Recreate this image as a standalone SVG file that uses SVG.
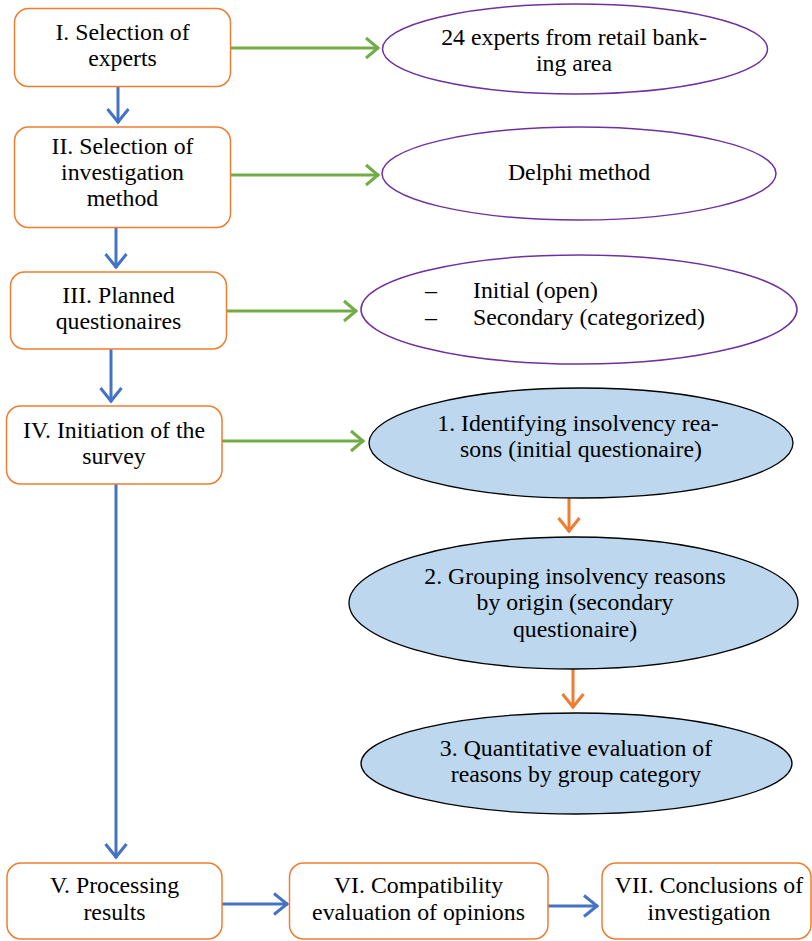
<svg xmlns="http://www.w3.org/2000/svg" width="812" height="941" viewBox="0 0 812 941">
<defs>
<style>
.box{fill:#fff;stroke:#ED7D31;stroke-width:1.5}
.ell{fill:#fff;stroke:#7030A0;stroke-width:1.5}
.ellb{fill:#BDD7EE;stroke:#000;stroke-width:1.3}
.c{text-anchor:middle}
.g{stroke:#70AD47;stroke-width:3;fill:none}
.b{stroke:#4472C4;stroke-width:3;fill:none}
.o{stroke:#ED7D31;stroke-width:3;fill:none}
</style>
<marker id="mg" markerUnits="userSpaceOnUse" markerWidth="30" markerHeight="30" viewBox="-15 -15 30 30" refX="0" refY="0" orient="auto" overflow="visible"><path d="M-13,-10 L-1,0 L-13,10" fill="none" stroke="#70AD47" stroke-width="3"/></marker>
<marker id="mb" markerUnits="userSpaceOnUse" markerWidth="30" markerHeight="30" viewBox="-15 -15 30 30" refX="0" refY="0" orient="auto" overflow="visible"><path d="M-14,-10.5 L-1,0 L-14,10.5" fill="none" stroke="#4472C4" stroke-width="3"/></marker>
<marker id="mo" markerUnits="userSpaceOnUse" markerWidth="30" markerHeight="30" viewBox="-15 -15 30 30" refX="0" refY="0" orient="auto" overflow="visible"><path d="M-14,-10.5 L-1,0 L-14,10.5" fill="none" stroke="#ED7D31" stroke-width="3"/></marker>
</defs>
<rect width="812" height="941" fill="#fff"/>
<g id="connectors">
<line class="g" x1="231" y1="48" x2="379" y2="48" marker-end="url(#mg)"/>
<line class="g" x1="231" y1="175" x2="379" y2="175" marker-end="url(#mg)"/>
<line class="g" x1="227" y1="311" x2="357" y2="311" marker-end="url(#mg)"/>
<line class="g" x1="222" y1="441" x2="364" y2="441" marker-end="url(#mg)"/>
<line class="b" x1="118" y1="87" x2="118" y2="123" marker-end="url(#mb)"/>
<line class="b" x1="116" y1="228" x2="116" y2="268" marker-end="url(#mb)"/>
<line class="b" x1="111" y1="349" x2="111" y2="402" marker-end="url(#mb)"/>
<line class="b" x1="116" y1="484" x2="116" y2="858" marker-end="url(#mb)"/>
<line class="b" x1="222" y1="904" x2="288" y2="904" marker-end="url(#mb)"/>
<line class="b" x1="548" y1="906" x2="598" y2="906" marker-end="url(#mb)"/>
<line class="o" x1="569" y1="498" x2="569" y2="532" marker-end="url(#mo)"/>
<line class="o" x1="573" y1="669" x2="573" y2="708" marker-end="url(#mo)"/>
</g>
<g font-family="'Liberation Serif', 'Times New Roman', Times, serif" font-size="23.8" fill="#000">
<g id="n1"><rect class="box" x="14.5" y="8.5" width="216" height="78" rx="14"/>
<text class="c" x="122.5" y="40">I. Selection of</text><text class="c" x="122.5" y="66">experts</text></g>
<g id="n2"><rect class="box" x="14.5" y="127" width="216" height="100.5" rx="14"/>
<text class="c" x="122.5" y="154">II. Selection of</text><text class="c" x="122.5" y="180">investigation</text><text class="c" x="122.5" y="206">method</text></g>
<g id="n3"><rect class="box" x="10.5" y="272" width="216" height="77" rx="14"/>
<text class="c" x="118.5" y="302.5">III. Planned</text><text class="c" x="118.5" y="329">questionaires</text></g>
<g id="n4"><rect class="box" x="6.5" y="406" width="215.5" height="78" rx="14"/>
<text class="c" x="114" y="438">IV. Initiation of the</text><text class="c" x="114" y="463.5">survey</text></g>
<g id="n5"><rect class="box" x="7" y="863" width="215" height="76" rx="14"/>
<text class="c" x="114.5" y="893">V. Processing</text><text class="c" x="114.5" y="920">results</text></g>
<g id="n6"><rect class="box" x="289.5" y="863" width="258.5" height="76" rx="14"/>
<text class="c" x="418.5" y="893">VI. Compatibility</text><text class="c" x="418.5" y="920">evaluation of opinions</text></g>
<g id="n7"><rect class="box" x="602" y="863" width="209" height="76" rx="14"/>
<text class="c" x="709" y="893">VII. Conclusions of</text><text class="c" x="709" y="920">investigation</text></g>
<g id="e1"><ellipse class="ell" cx="575" cy="49" rx="192.5" ry="45"/>
<text class="c" x="574" y="45">24 experts from retail bank-</text><text class="c" x="574" y="71">ing area</text></g>
<g id="e2"><ellipse class="ell" cx="579" cy="173.5" rx="197" ry="46.5"/>
<text class="c" x="579" y="180">Delphi method</text></g>
<g id="e3"><ellipse class="ell" cx="579" cy="309.5" rx="218" ry="54.5"/>
<text x="425" y="298">–</text><text x="473" y="298">Initial (open)</text>
<text x="425" y="325">–</text><text x="473" y="325">Secondary (categorized)</text></g>
<g id="e4"><ellipse class="ellb" cx="581" cy="443" rx="212" ry="55"/>
<text class="c" x="578" y="430.5">1. Identifying insolvency rea-</text><text class="c" x="581" y="457">sons (initial questionaire)</text></g>
<g id="e5"><ellipse class="ellb" cx="573.5" cy="603" rx="224.5" ry="66"/>
<text class="c" x="575" y="583.5">2. Grouping insolvency reasons</text><text class="c" x="575" y="610">by origin (secondary</text><text class="c" x="575" y="636.5">questionaire)</text></g>
<g id="e6"><ellipse class="ellb" cx="576.5" cy="763.5" rx="215.5" ry="50.5"/>
<text class="c" x="576" y="756">3. Quantitative evaluation of</text><text class="c" x="576" y="782">reasons by group category</text></g>
</g>
</svg>
